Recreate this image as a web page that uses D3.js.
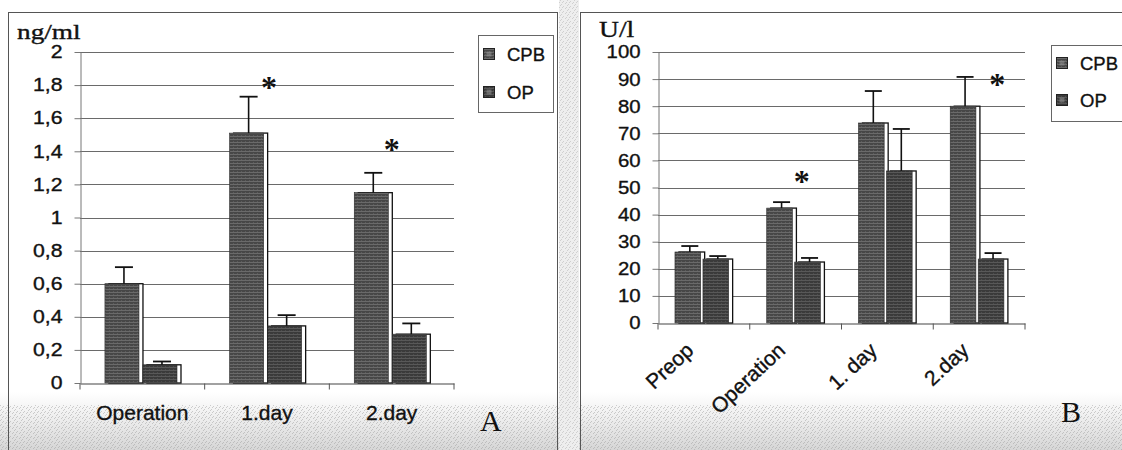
<!DOCTYPE html>
<html><head><meta charset="utf-8">
<script src="https://cdnjs.cloudflare.com/ajax/libs/d3/7.8.5/d3.min.js"></script>
<style>body{margin:0;background:#fff;overflow:hidden}</style>
</head><body><svg id="c" width="1122" height="450"></svg>
<script>
// ---------- Panel A data ----------
const categoriesA = ["Operation", "1.day", "2.day"];
const cpbA = [0.60, 1.51, 1.15];
const cpbErrA = [0.10, 0.22, 0.12];
const opA = [0.11, 0.345, 0.295];
const opErrA = [0.02, 0.065, 0.065];
const starA = [null, 1.81, 1.44];
const yTicksA = [0, 0.2, 0.4, 0.6, 0.8, 1, 1.2, 1.4, 1.6, 1.8, 2];
const yTickLabelsA = ["0", "0,2", "0,4", "0,6", "0,8", "1", "1,2", "1,4", "1,6", "1,8", "2"];

// ---------- Panel B data ----------
const categoriesB = ["Preop", "Operation", "1. day", "2.day"];
const cpbB = [26.2, 42.4, 73.8, 80.0];
const cpbErrB = [2.2, 2.2, 11.8, 10.8];
const opB = [23.6, 22.5, 56.1, 23.6];
const opErrB = [1.1, 1.5, 15.5, 2.2];
const starB = [null, 54, null, 89.7];
const yTicksB = [0, 10, 20, 30, 40, 50, 60, 70, 80, 90, 100];
const yTickLabelsB = ["0", "10", "20", "30", "40", "50", "60", "70", "80", "90", "100"];

const seriesNames = ["CPB", "OP"];

const SANS = "'Liberation Sans', Arial, sans-serif";
const SERIF = "'Liberation Serif', 'Times New Roman', serif";

const svg = d3.select("#c");
const defs = svg.append("defs");

// textures
function texture(id, base, line) {
  const p = defs.append("pattern").attr("id", id).attr("patternUnits", "userSpaceOnUse")
    .attr("width", 4).attr("height", 3);
  p.append("rect").attr("width", 4).attr("height", 3).attr("fill", base);
  p.append("rect").attr("y", 1).attr("width", 4).attr("height", 1).attr("fill", line);
  p.append("rect").attr("x", 1).attr("y", 0).attr("width", 1).attr("height", 1).attr("fill", line).attr("opacity", 0.6);
}
texture("texCPB", "#474747", "#6a6a6a");
texture("texOP", "#3a3a3a", "#585858");

const grad = defs.append("linearGradient").attr("id", "bgGrad").attr("x1", 0).attr("y1", 0).attr("x2", 0).attr("y2", 1);
grad.append("stop").attr("offset", "0%").attr("stop-color", "#ffffff");
grad.append("stop").attr("offset", "45%").attr("stop-color", "#eeeeee");
grad.append("stop").attr("offset", "100%").attr("stop-color", "#d6d6d6");

// dotted noise pattern (decorative, deterministic)
const np = defs.append("pattern").attr("id", "noise").attr("patternUnits", "userSpaceOnUse").attr("width", 7).attr("height", 5);
[[0,0],[3,1],[5,3],[1,4],[6,2],[2,2]].forEach(([x, y]) =>
  np.append("rect").attr("x", x).attr("y", y).attr("width", 1).attr("height", 1).attr("fill", "#999"));

// background shading
svg.append("rect").attr("x", 0).attr("y", 392).attr("width", 1122).attr("height", 58).attr("fill", "url(#bgGrad)");
svg.append("rect").attr("x", 0).attr("y", 405).attr("width", 1122).attr("height", 45).attr("fill", "url(#noise)").attr("opacity", 0.45);
svg.append("rect").attr("x", 559).attr("y", 0).attr("width", 20).attr("height", 450).attr("fill", "#eeeeee");
svg.append("rect").attr("x", 559).attr("y", 0).attr("width", 20).attr("height", 450).attr("fill", "url(#noise)").attr("opacity", 0.35);

// panel borders
function border(x1, y1, x2, y2) {
  svg.append("line").attr("x1", x1).attr("y1", y1).attr("x2", x2).attr("y2", y2)
    .attr("stroke", "#555").attr("stroke-width", 1);
}
border(8, 12.5, 558, 12.5); border(8.5, 12, 8.5, 450); border(557.5, 12, 557.5, 450);
border(580, 12.5, 1122, 12.5); border(580.5, 12, 580.5, 450);

// horizontal stretch about the text's own anchor x
function stretchX(sel, f) {
  sel.each(function () {
    const ax = +d3.select(this).attr("x") || 0;
    d3.select(this).attr("transform", `translate(${ax * (1 - f)},0) scale(${f},1)`);
  });
}
function heavy(sel) { sel.attr("stroke", "#111").attr("stroke-width", 0.35); }

function drawPanel(cfg) {
  const g = svg.append("g");
  const x = d3.scaleBand().domain(cfg.categories).range([cfg.x0, cfg.x1]).paddingInner(0).paddingOuter(0);
  const y = d3.scaleLinear().domain([cfg.yTicks[0], cfg.yTicks[cfg.yTicks.length - 1]]).range([cfg.yBot, cfg.yTop]);
  const bw = x.bandwidth();

  // gridlines
  g.append("g").selectAll("line").data(cfg.yTicks.slice(1)).join("line")
    .attr("x1", cfg.x0).attr("x2", cfg.x1)
    .attr("y1", d => Math.round(y(d)) + 0.5).attr("y2", d => Math.round(y(d)) + 0.5)
    .attr("stroke", "#6a6a6a").attr("stroke-width", 1);

  // y axis
  const ya = g.append("g").attr("transform", `translate(${cfg.x0 + 0.5},0)`)
    .call(d3.axisLeft(y).tickValues(cfg.yTicks).tickFormat((d, i) => cfg.yTickLabels[i]).tickSize(6).tickPadding(cfg.tickPad).tickSizeOuter(0));
  ya.select(".domain").attr("stroke", "#777");
  ya.selectAll(".tick line").attr("stroke", "#777");
  const tt = ya.selectAll(".tick text").attr("font-family", SANS).attr("font-size", cfg.tickFont).attr("fill", "#111");
  heavy(tt);
  stretchX(tt, cfg.tickStretch);

  // x axis
  const xa = g.append("g").attr("transform", `translate(0,${cfg.yBot + 0.5})`)
    .call(d3.axisBottom(x).tickValues([]).tickSizeOuter(0));
  xa.select(".domain").attr("stroke", "#444").attr("stroke-width", 1.2);
  const bounds = cfg.categories.map(c => x(c)).concat([cfg.x1]);
  xa.selectAll("line.bt").data(bounds).join("line").attr("class", "bt")
    .attr("x1", d => d).attr("x2", d => d).attr("y1", 0).attr("y2", 6).attr("stroke", "#555");

  // bars
  const series = [
    { name: "CPB", vals: cfg.cpb, errs: cfg.cpbErr, fill: "url(#texCPB)", off: cfg.barStart },
    { name: "OP", vals: cfg.op, errs: cfg.opErr, fill: "url(#texOP)", off: cfg.barStart + cfg.barW + cfg.gap }
  ];
  series.forEach(s => {
    const bg = g.append("g");
    const data = cfg.categories.map((c, i) => ({ c, v: s.vals[i], e: s.errs[i] }));
    const bx = d => x(d.c) + s.off * bw;
    const w = cfg.barW * bw;
    // white shadow outline
    bg.selectAll("rect.sh").data(data).join("rect").attr("class", "sh")
      .attr("x", d => bx(d) + cfg.shadow).attr("y", d => y(d.v))
      .attr("width", w).attr("height", d => y(0) - y(d.v))
      .attr("fill", "#fff").attr("stroke", "#111").attr("stroke-width", 1.3);
    bg.selectAll("rect.bar").data(data).join("rect").attr("class", "bar")
      .attr("x", d => bx(d)).attr("y", d => y(d.v))
      .attr("width", w).attr("height", d => y(0) - y(d.v))
      .attr("fill", s.fill).attr("stroke", "#2a2a2a").attr("stroke-width", 0.6);
    // error bars
    const cx = d => bx(d) + (w + cfg.shadow) / 2;
    bg.selectAll("line.ev").data(data).join("line").attr("class", "ev")
      .attr("x1", cx).attr("x2", cx).attr("y1", d => y(d.v)).attr("y2", d => y(d.v + d.e))
      .attr("stroke", "#111").attr("stroke-width", 1.6);
    bg.selectAll("line.ec").data(data).join("line").attr("class", "ec")
      .attr("x1", d => cx(d) - cfg.capW / 2).attr("x2", d => cx(d) + cfg.capW / 2)
      .attr("y1", d => y(d.v + d.e)).attr("y2", d => y(d.v + d.e))
      .attr("stroke", "#111").attr("stroke-width", 1.8);
  });

  // significance stars
  const starData = cfg.categories.map((c, i) => ({ c, v: cfg.stars[i], dx: cfg.starDx[i] })).filter(d => d.v != null);
  g.selectAll("text.star").data(starData).join("text").attr("class", "star")
    .attr("x", d => x(d.c) + bw / 2 + d.dx).attr("y", d => y(d.v) + 15)
    .attr("text-anchor", "middle").attr("font-family", SERIF).attr("font-weight", "bold")
    .attr("font-size", 32).attr("fill", "#111").text("*");

  // category labels
  let cats;
  if (cfg.rotate) {
    cats = g.selectAll("text.cat").data(cfg.categories).join("text").attr("class", "cat")
      .attr("transform", d => `translate(${x(d) + bw / 2 - 9},${cfg.labelY}) rotate(-43)`)
      .attr("text-anchor", "end");
  } else {
    cats = g.selectAll("text.cat").data(cfg.categories).join("text").attr("class", "cat")
      .attr("x", d => x(d) + bw / 2).attr("y", cfg.labelY)
      .attr("text-anchor", "middle");
  }
  cats.attr("font-family", SANS).attr("font-size", cfg.catFont).attr("fill", "#111").text(d => d);
  heavy(cats);

  // unit label
  const ul = g.append("text").attr("x", cfg.unitX).attr("y", cfg.unitY)
    .attr("font-family", SERIF).attr("font-size", cfg.unitFont).attr("fill", "#111").text(cfg.unit);
  heavy(ul);
  stretchX(ul, cfg.unitStretch);

  // panel letter
  g.append("text").attr("x", cfg.letterX).attr("y", cfg.letterY)
    .attr("font-family", SERIF).attr("font-size", 30).attr("fill", "#111").text(cfg.letter);

  // legend
  const lg = g.append("g");
  lg.append("rect").attr("x", cfg.legX + 0.5).attr("y", cfg.legY + 0.5).attr("width", cfg.legW).attr("height", cfg.legH)
    .attr("fill", "#fff").attr("stroke", "#666").attr("stroke-width", 1);
  seriesNames.forEach((n, i) => {
    const cy = cfg.legY + cfg.legRow0 + i * cfg.legRowGap;
    lg.append("rect").attr("x", cfg.legX + 5.5).attr("y", cy - 5.5).attr("width", 11).attr("height", 11)
      .attr("fill", i === 0 ? "url(#texCPB)" : "url(#texOP)").attr("stroke", "#222").attr("stroke-width", 1);
    lg.append("rect").attr("x", cfg.legX + 8.5).attr("y", cy - 2.5).attr("width", 5).attr("height", 5)
      .attr("fill", "#999").attr("opacity", 0.5);
    const t = lg.append("text").attr("x", cfg.legX + 29).attr("y", cy + 6.5)
      .attr("font-family", SANS).attr("font-size", 18.5).attr("fill", "#111").text(n);
    heavy(t);
  });
}

drawPanel({
  categories: categoriesA, cpb: cpbA, cpbErr: cpbErrA, op: opA, opErr: opErrA, stars: starA, starDx: [0, 2, 0],
  yTicks: yTicksA, yTickLabels: yTickLabelsA,
  x0: 80, x1: 454, yTop: 52, yBot: 383,
  barStart: 0.2, barW: 0.273, gap: 0.032, shadow: 4, capW: 18,
  tickFont: 18, tickStretch: 1.18, tickPad: 12,
  catFont: 21, labelY: 420, rotate: false,
  unit: "ng/ml", unitX: 17, unitY: 39, unitFont: 21, unitStretch: 1.3,
  letter: "A", letterX: 480, letterY: 431,
  legX: 478, legY: 35, legW: 75, legH: 77, legRow0: 19, legRowGap: 38
});

drawPanel({
  categories: categoriesB, cpb: cpbB, cpbErr: cpbErrB, op: opB, opErr: opErrB, stars: starB, starDx: [0, 6, 0, 18],
  yTicks: yTicksB, yTickLabels: yTickLabelsB,
  x0: 658, x1: 1025, yTop: 52, yBot: 323,
  barStart: 0.185, barW: 0.28, gap: 0.025, shadow: 4, capW: 17,
  tickFont: 18.5, tickStretch: 1.1, tickPad: 12,
  catFont: 21, labelY: 352, rotate: true,
  unit: "U/l", unitX: 599, unitY: 37, unitFont: 23, unitStretch: 1.2,
  letter: "B", letterX: 1061, letterY: 422,
  legX: 1051, legY: 45, legW: 80, legH: 76, legRow0: 18, legRowGap: 37
});
</script>
</body></html>
